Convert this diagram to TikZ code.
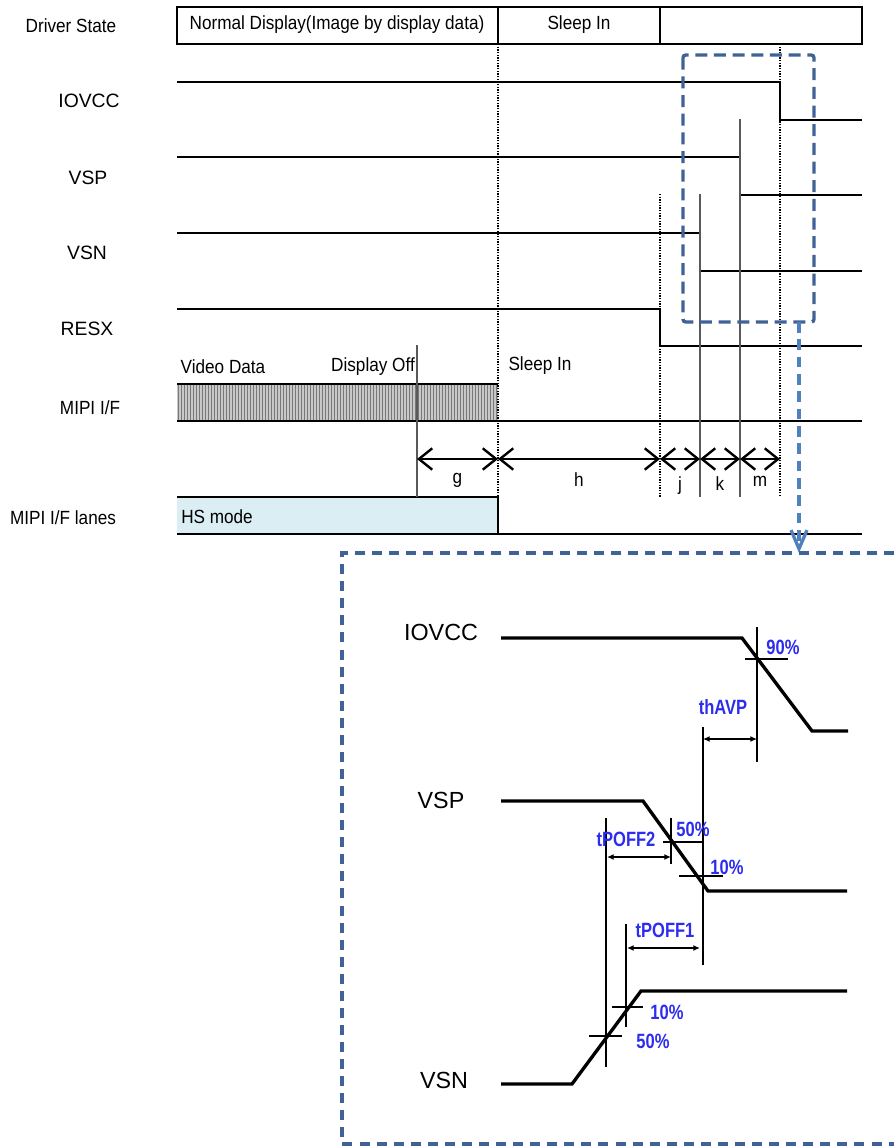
\documentclass[tikz,border=0pt]{standalone}
\usepackage{fontspec}
\setmainfont{Liberation Sans}
\newfontfamily\narrowsans[FakeStretch=0.9]{Liberation Sans}
\newfontfamily\condsans[FakeStretch=0.8]{Liberation Sans}
\usetikzlibrary{arrows.meta,positioning,calc}
\definecolor{zoomblue}{RGB}{64,98,150}
\definecolor{pointblue}{RGB}{79,129,189}
\definecolor{pctblue}{RGB}{45,45,240}
\definecolor{hsfill}{RGB}{219,238,244}
\definecolor{hatchbg}{RGB}{200,200,200}
\definecolor{hatchln}{RGB}{120,120,120}
\newcommand\lanefont{\narrowsans\fontsize{14.3}{16}\selectfont}
\newcommand\sigfont{\fontsize{14.5}{16}\selectfont}
\newcommand\bigsigfont{\fontsize{17.5}{20}\selectfont}
\newcommand\pctfont{\condsans\bfseries\fontsize{15.5}{18}\selectfont}
\tikzset{
  lanelbl/.style={font=\lanefont,inner sep=0pt},
  siglbl/.style={font=\sigfont,inner sep=0pt},
  bigsig/.style={font=\bigsigfont,inner sep=0pt},
  pct/.style={font=\pctfont,text=pctblue,inner sep=0pt},
  wave/.style={line width=2pt},
  wavebig/.style={line width=2.5pt},
  rowbox/.style={line width=2.2pt},
  guide/.style={densely dotted,line width=1pt},
  guideg/.style={line width=1.5pt,draw=black!65},
  hair/.style={line width=1pt},
  span/.style={{Straight Barb[length=10pt,width=16pt]}-{Straight Barb[length=10pt,width=16pt]},line width=1.8pt},
  tspan/.style={{Latex[length=5pt,width=4.5pt]}-{Latex[length=5pt,width=4.5pt]},line width=1pt},
  zoombox/.style={draw=zoomblue,line width=2.5pt,dash pattern=on 9pt off 5pt,rounded corners=2pt},
  bigbox/.style={draw=zoomblue,line width=2.5pt,dash pattern=on 7.5pt off 5.3pt},
  pointer/.style={draw=pointblue,line width=2.5pt,dash pattern=on 8pt off 5pt,
                  -{Straight Barb[length=14pt,width=12pt,line width=2.5pt]}},
}

\begin{document}
\begin{tikzpicture}[x=0.75pt,y=-0.75pt]
  \useasboundingbox (0,0) rectangle (894,1147);

  \node[lanelbl] (ldrv)   at (71,26)  {Driver State};
  \node[siglbl]  (liov)   at (89,101) {IOVCC};
  \node[siglbl]  (lvsp)   at (88,178) {VSP};
  \node[siglbl]  (lvsn)   at (87,253) {VSN};
  \node[siglbl]  (lresx)  at (87,329) {RESX};
  \node[lanelbl] (lmipi)  at (90,408) {MIPI I/F};
  \node[lanelbl] (llanes) at (63,518) {MIPI I/F lanes};

  \draw[rowbox] (177,7) rectangle (862,44);
  \draw[line width=1.6pt] (498,7) -- (498,44) (660,7) -- (660,44);
  \node[lanelbl] (snorm)  at (337,25) {Normal Display(Image by display data)};
  \node[lanelbl] (ssleep) at (579,25) {Sleep In};

  \draw[wave] (177,82)  -| (780,120) -- (862,120);
  \draw[wave] (177,157) -| (740,195) -- (862,195);
  \draw[wave] (177,233) -| (700,271) -- (862,271);
  \draw[wave] (177,309) -| (660,346) -- (862,346);

  \fill[hatchbg] (177,384) rectangle (498,421);
  \foreach \x in {178.5,181.5,...,497}
    \draw[hatchln,line width=0.6pt] (\x,384) -- (\x,421);
  \draw[wave] (177,384) -- (498,384);
  \draw[wave] (177,421) -- (862,421);

  \fill[hsfill] (177,497) rectangle (498,534);
  \draw[line width=1.4pt] (177,497) -- (498,497) -- (498,534);
  \draw[wave] (177,534) -- (862,534);

  \draw[guide]  (498,44)  -- (498,497);
  \draw[guide]  (660,194) -- (660,497);
  \draw[guide]  (780,44)  -- (780,497);
  \draw[guideg] (700,194) -- (700,497);
  \draw[guideg] (740,119) -- (740,497);
  \draw[guideg] (417,345) -- (417,497);

  \node[lanelbl] (tvideo) at (223,367) {Video Data};
  \node[lanelbl] (toff)   at (373,367) {Display Off};
  \node[lanelbl] (tsleep) at (540,366) {Sleep In};
  \node[lanelbl,anchor=west] (ths) at (181,517) {HS mode};

  \coordinate (t0) at (417,459);
  \coordinate (t1) at (498,459);
  \coordinate (t2) at (660,459);
  \coordinate (t3) at (700,459);
  \coordinate (t4) at (740,459);
  \coordinate (t5) at (780,459);
  \draw[span] (t0) -- (t1) node[lanelbl,midway,below=10pt] (lg) {g};
  \draw[span] (t1) -- (t2) node[lanelbl,midway,below=9pt]  (lh) {h};
  \draw[span] (t2) -- (t3) node[lanelbl,midway,below=12pt] (lj) {j};
  \draw[span] (t3) -- (t4) node[lanelbl,midway,below=12pt] (lk) {k};
  \draw[span] (t4) -- (t5) node[lanelbl,midway,below=12pt] (lm) {m};

  \draw[zoombox] (683,55) rectangle (814,322);
  \coordinate (ptr0) at (799,322);
  \coordinate (ptr1) at (799,553);
  \draw[pointer] (ptr0) -- (ptr1);
  \draw[bigbox] (894,553) -- (342,553) -- (342,1144) -- (894,1144);

  \node[bigsig] (biov) at (441,632)  {IOVCC};
  \node[bigsig] (bvsp) at (441,800)  {VSP};
  \node[bigsig] (bvsn) at (444,1080) {VSN};

  \draw[wavebig] (501,638)  -- (742,638) -- (812,731) -- (848,731);
  \draw[wavebig] (501,801)  -- (643,801) -- (708,891) -- (847,891);
  \draw[wavebig] (501,1084) -- (572,1084) -- (641,991) -- (847,991);

  \draw[hair] (757,627) -- (757,762) (745,659) -- (788,659);
  \draw[hair] (703,727) -- (703,965);
  \draw[hair] (671,818) -- (671,864) (663,842) -- (704,842);
  \draw[hair] (679,876) -- (723,876);
  \draw[hair] (606,818) -- (606,1067) (589,1036) -- (622,1036);
  \draw[hair] (626,924) -- (626,1027) (612,1007) -- (643,1007);

  \draw[tspan] (703,739) -- (757,739);
  \draw[tspan] (607,857) -- (671,857);
  \draw[tspan] (627,948) -- (700,948);

  \node[pct] (p90)    at (783,647)  {90\%};
  \node[pct] (thavp)  at (723,707)  {thAVP};
  \node[pct] (p50a)   at (693,829)  {50\%};
  \node[pct] (p10a)   at (727,867)  {10\%};
  \node[pct] (tpoff2) at (626,839)  {tPOFF2};
  \node[pct] (tpoff1) at (665,930)  {tPOFF1};
  \node[pct] (p10b)   at (667,1012) {10\%};
  \node[pct] (p50b)   at (653,1041) {50\%};
\end{tikzpicture}
\end{document}
